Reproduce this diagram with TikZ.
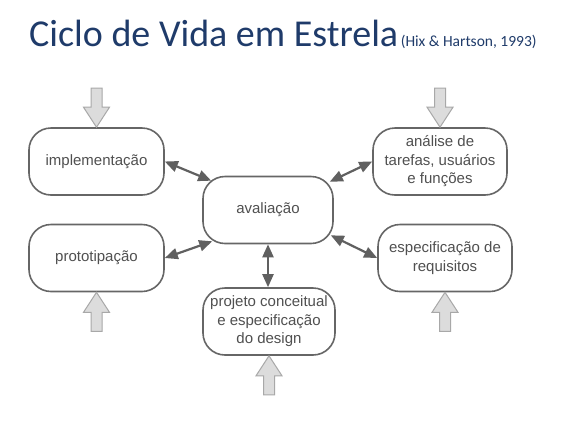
\documentclass[tikz,border=0pt]{standalone}
\usepackage{fontspec}
\setmainfont{Liberation Sans}
\newfontfamily\titlefont{Carlito}
\usetikzlibrary{arrows.meta,calc}
\definecolor{titleblue}{HTML}{1F3B6A}
\definecolor{boxline}{HTML}{666666}
\definecolor{boxtext}{HTML}{505050}
\definecolor{linkgray}{HTML}{606060}
\definecolor{bigfill}{HTML}{DCDCDC}
\definecolor{bigline}{HTML}{A8A8A8}
\begin{document}
\begin{tikzpicture}[x=1pt,y=-1pt,
  stagebox/.style={draw=boxline, line width=1.6pt, rounded corners=22pt, fill=white,
    minimum height=67pt, inner sep=2pt, align=center, text=boxtext,
    font=\fontsize{15}{18.5}\selectfont},
  link/.style={draw=linkgray, line width=2.2pt, {Triangle[length=13pt,width=11pt]}-{Triangle[length=13pt,width=11pt]}},
  bigarrow/.pic={\draw[fill=bigfill, draw=bigline, line width=1pt]
    (0,0) -- (13,20) -- (5.5,20) -- (5.5,39) -- (-5.5,39) -- (-5.5,20) -- (-13,20) -- cycle;}
]
\useasboundingbox (0,0) rectangle (585,424);
\fill[white] (0,0) rectangle (585,424);

\node[anchor=base west, inner sep=0pt, text=titleblue] (title) at (29,46)
  {\titlefont\fontsize{38}{40}\selectfont Ciclo de Vida em Estrela\fontsize{15.5}{17}\selectfont\,(Hix \& Hartson, 1993)};

\node[stagebox, minimum width=135pt] (impl) at (96.5,161.5) {implementação};
\node[stagebox, minimum width=135pt] (proto) at (96.5,258) {prototipação};
\node[stagebox, minimum width=130pt] (aval) at (268,210) {avaliação};
\node[stagebox, minimum width=134pt] (anal) at (440,161.5) {análise de\\tarefas, usuários\\e funções};
\node[stagebox, minimum width=134pt] (espec) at (445,258) {especificação de\\requisitos};
\node[stagebox, minimum width=132pt] (proj) at (269,321.5) {projeto conceitual\\e especificação\\do design};

\draw[link] (impl.east) -- ($(aval.north west)+(9,5)$);
\draw[link] (proto.east) -- ($(aval.south west)+(10,-3)$);
\draw[link] (anal.west) -- ($(aval.north east)+(-4,6)$);
\draw[link] ($(aval.south east)+(-3,-9)$) -- (espec.west);
\draw[link] (aval.south) -- (aval.south |- proj.north);

\pic[rotate=180] at (impl.north) {bigarrow};
\pic[rotate=180] at (anal.north) {bigarrow};
\pic at (proto.south) {bigarrow};
\pic at (espec.south) {bigarrow};
\pic at (proj.south) {bigarrow};
\end{tikzpicture}
\end{document}
